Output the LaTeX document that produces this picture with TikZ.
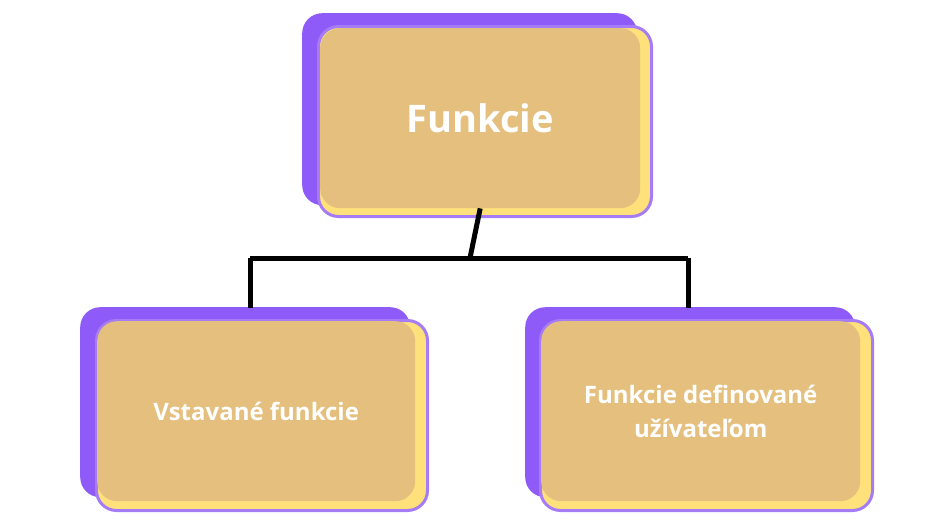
\documentclass[tikz,border=0pt]{standalone}
\usepackage{fontspec}
\setmainfont{Open Sans}
\begin{document}
\begin{tikzpicture}[x=1pt,y=-1pt,
  back/.style={fill=purpleA,draw=none,rounded corners=20pt,anchor=north west,inner sep=0},
  mid/.style={fill=yellowA,draw=purpleB,line width=3pt,rounded corners=20pt,anchor=north west,inner sep=0},
  front/.style={fill=tanA,draw=none,rounded corners=20pt,anchor=north west,inner sep=0,text=white,font=\bfseries,align=center},
  conn/.style={line width=5pt,draw=black}]
\definecolor{purpleA}{HTML}{8F5BF8}
\definecolor{purpleB}{HTML}{A57CF6}
\definecolor{yellowA}{HTML}{FFE17B}
\definecolor{tanA}{HTML}{E5BF7D}
\useasboundingbox (0,0) rectangle (940,525);
% top
\node[back,minimum width=335pt,minimum height=192pt] (tb) at (302,13) {};
\node[mid,minimum width=333pt,minimum height=190pt] (tm) at (317,25) {};
\node[front,minimum width=320pt,minimum height=180pt,font=\bfseries\fontsize{38}{44}\selectfont] (t) at (320,28) {Funkcie};
% left
\node[back,minimum width=330pt,minimum height=190pt] (lb) at (80,307) {};
\node[mid,minimum width=331pt,minimum height=190pt] (lm) at (95,319) {};
\node[front,minimum width=318pt,minimum height=180pt,font=\bfseries\fontsize{24}{34}\selectfont] (l) at (97,321) {Vstavané funkcie};
% right
\node[back,minimum width=330pt,minimum height=190pt] (rb) at (525,307) {};
\node[mid,minimum width=332pt,minimum height=190pt] (rm) at (539,319) {};
\node[front,minimum width=319pt,minimum height=180pt,font=\bfseries\fontsize{24}{34}\selectfont] (r) at (541,321) {Funkcie definované\\užívateľom};
% connectors
\coordinate (j) at (470,258);
\draw[conn] (t.south) -- (j);
\draw[conn] (250,258) -- (688,258);
\draw[conn] (250,258) -- (250,308);
\draw[conn] (688,258) -- (688,308);
\end{tikzpicture}
\end{document}
